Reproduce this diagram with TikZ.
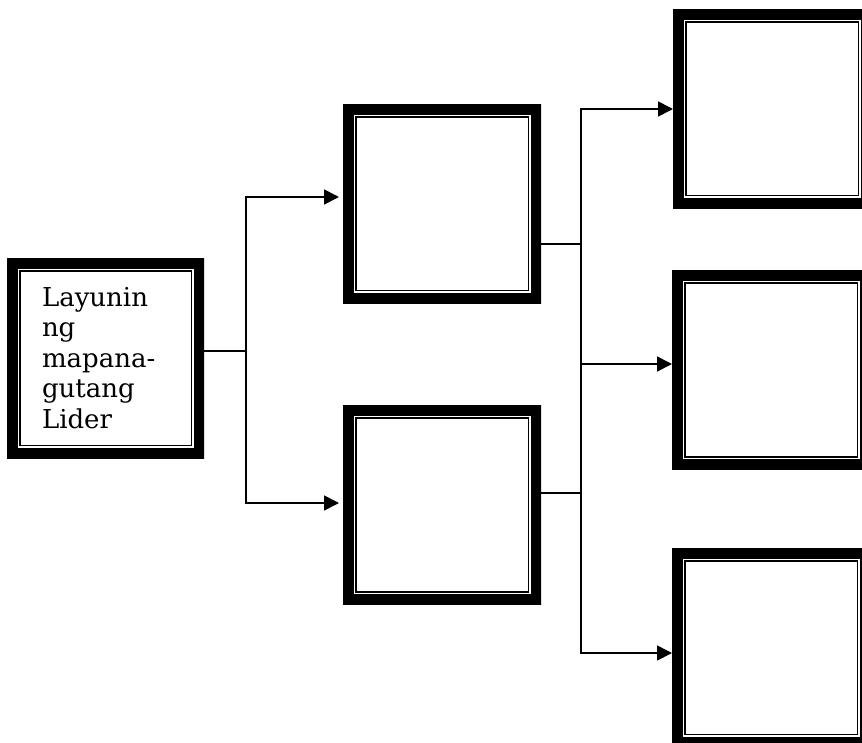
\documentclass[tikz,border=0pt]{standalone}
\usepackage{fontspec}
\setmainfont{DejaVu Serif}
\usetikzlibrary{arrows.meta}
\tikzset{
  dbox/.style={rectangle, inner sep=0pt, outer sep=0pt, draw=none,
    minimum width=198pt, minimum height=199pt,
    path picture={
      \draw[line width=21pt] (path picture bounding box.south west) rectangle (path picture bounding box.north east);
      \draw[line width=1.6pt] ([shift={(12.7pt,12.7pt)}]path picture bounding box.south west) rectangle ([shift={(-12.7pt,-12.7pt)}]path picture bounding box.north east);
    }},
  conn/.style={line width=1.7pt, line cap=rect},
  arr/.style={line width=1.7pt, -{Triangle[length=15pt,width=15pt]}},
  lbl/.style={font=\fontsize{26}{30.5}\selectfont, text width=127pt, align=left}
}
\begin{document}
\begin{tikzpicture}[x=1pt,y=-1pt]
\useasboundingbox (0,0) rectangle (862,742);
\node[dbox, lbl, minimum width=197pt, minimum height=200pt] (L) at (105.5,358) {Layunin\\ng\\mapana-\\gutang\\Lider};
\node[dbox] (M1) at (442,203.5) {};
\node[dbox] (M2) at (442,505) {};
\node[dbox] (R1) at (772,108.5) {};
\node[dbox] (R2) at (771,370) {};
\node[dbox] (R3) at (771,647.5) {};
% first level
\coordinate (a1) at (246,351);
\coordinate (t1) at (246,197);
\coordinate (b1) at (246,503);
\draw[conn] (L.east |- a1) -- (a1);
\draw[conn] (t1) -- (b1);
\draw[arr, shorten >=4pt] (t1) -- (M1.west |- t1);
\draw[arr, shorten >=4pt] (b1) -- (M2.west |- b1);
% second level
\coordinate (a2) at (581,244);
\coordinate (a3) at (581,493);
\coordinate (t2) at (581,109);
\coordinate (m2) at (581,364);
\coordinate (b2) at (581,653);
\draw[conn] (M1.east |- a2) -- (a2);
\draw[conn] (M2.east |- a3) -- (a3);
\draw[conn] (t2) -- (b2);
\draw[arr] (t2) -- (R1.west |- t2);
\draw[arr] (m2) -- (R2.west |- m2);
\draw[arr] (b2) -- (R3.west |- b2);
\end{tikzpicture}
\end{document}
